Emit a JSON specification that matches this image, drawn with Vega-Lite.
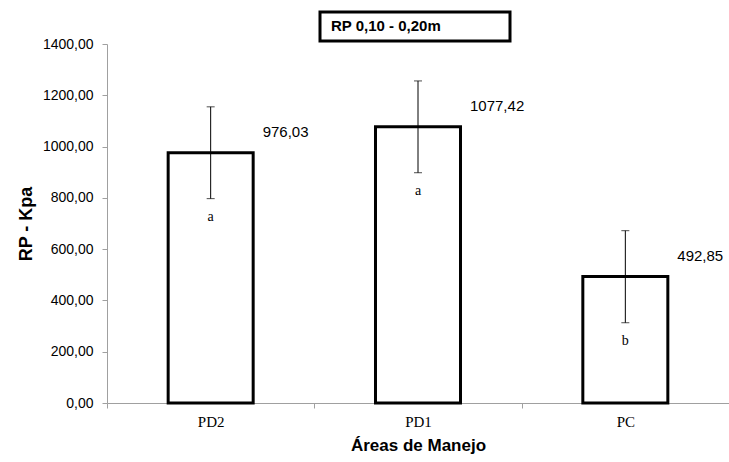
{
  "$schema": "https://vega.github.io/schema/vega-lite/v6.json",
  "width": 622,
  "height": 359,
  "autosize": "none",
  "padding": {"left": 107, "top": 44, "right": 0, "bottom": 59},
  "background": "white",
  "config": {
    "view": {"stroke": null},
    "locale": {"number": {"decimal": ",", "thousands": "", "grouping": [3], "currency": ["", ""]}}
  },
  "data": {
    "values": [
      {"area": "PD2", "rp": 976.03, "lo": 797, "hi": 1155, "letter": "a"},
      {"area": "PD1", "rp": 1077.42, "lo": 898, "hi": 1256, "letter": "a"},
      {"area": "PC", "rp": 492.85, "lo": 313, "hi": 672, "letter": "b"}
    ]
  },
  "encoding": {
    "x": {
      "field": "area",
      "type": "nominal",
      "sort": ["PD2", "PD1", "PC"],
      "scale": {"domain": ["PD2", "PD1", "PC"], "paddingInner": 0.59, "paddingOuter": 0.295},
      "axis": {
        "title": "Áreas de Manejo",
        "labelAngle": 0,
        "labelFont": "Liberation Serif",
        "labelFontSize": 15,
        "labelColor": "black",
        "labelPadding": 6,
        "tickOffset": -103.67,
        "labelOffset": 103.67,
        "tickColor": "#a0a0a0",
        "tickSize": 5,
        "domainColor": "#a0a0a0",
        "titleFont": "Liberation Sans",
        "titleFontWeight": "bold",
        "titleFontSize": 17,
        "titleColor": "black",
        "titlePadding": 8
      }
    }
  },
  "layer": [
    {
      "mark": {"type": "bar", "fill": "white", "stroke": "black", "strokeWidth": 3},
      "encoding": {
        "y": {
          "field": "rp",
          "type": "quantitative",
          "scale": {"domain": [0, 1400]},
          "axis": {
            "title": "RP - Kpa",
            "values": [0, 200, 400, 600, 800, 1000, 1200, 1400],
            "format": ".2f",
            "grid": false,
            "labelFont": "Liberation Sans",
            "labelFontSize": 14,
            "labelColor": "black",
            "labelPadding": 9,
            "tickColor": "#a0a0a0",
            "tickSize": 5,
            "domainColor": "#a0a0a0",
            "titleFont": "Liberation Sans",
            "titleFontWeight": "bold",
            "titleFontSize": 18,
            "titleColor": "black",
            "titlePadding": 7
          }
        }
      }
    },
    {
      "mark": {"type": "rule", "color": "black", "strokeWidth": 1},
      "encoding": {"y": {"field": "lo", "type": "quantitative"}, "y2": {"field": "hi"}}
    },
    {
      "mark": {"type": "tick", "color": "black", "thickness": 1, "size": 8, "orient": "horizontal"},
      "encoding": {"y": {"field": "lo", "type": "quantitative"}}
    },
    {
      "mark": {"type": "tick", "color": "black", "thickness": 1, "size": 8, "orient": "horizontal"},
      "encoding": {"y": {"field": "hi", "type": "quantitative"}}
    },
    {
      "mark": {"type": "text", "align": "left", "baseline": "middle", "dx": 52, "dy": -21, "font": "Liberation Sans", "fontSize": 15, "color": "black"},
      "encoding": {"y": {"field": "rp", "type": "quantitative"}, "text": {"field": "rp", "type": "quantitative", "format": ".2f"}}
    },
    {
      "mark": {"type": "text", "align": "center", "baseline": "middle", "dy": 64, "font": "Liberation Serif", "fontSize": 14, "color": "black"},
      "encoding": {"y": {"field": "rp", "type": "quantitative"}, "text": {"field": "letter"}}
    },
    {
      "data": {"values": [{"label": "RP 0,10 - 0,20m", "pos": "PD1"}]},
      "layer": [
        {
          "mark": {"type": "bar", "width": 190, "fill": "white", "stroke": "black", "strokeWidth": 3, "clip": false, "xOffset": -3},
          "encoding": {"x": {"field": "pos", "type": "nominal", "sort": ["PD2", "PD1", "PC"]}, "y": {"datum": 1412}, "y2": {"datum": 1525}}
        },
        {
          "mark": {"type": "text", "align": "left", "baseline": "middle", "dx": -87, "font": "Liberation Sans", "fontWeight": "bold", "fontSize": 15, "color": "black", "clip": false},
          "encoding": {"x": {"field": "pos", "type": "nominal", "sort": ["PD2", "PD1", "PC"]}, "y": {"datum": 1470}, "text": {"field": "label"}}
        }
      ]
    }
  ]
}
